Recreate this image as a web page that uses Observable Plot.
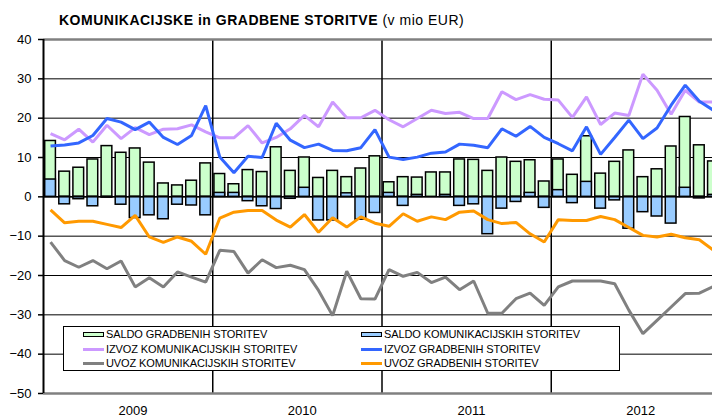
<!DOCTYPE html>
<html>
<head>
<meta charset="utf-8">
<script src="https://cdn.jsdelivr.net/npm/d3@7"></script>
<script src="https://cdn.jsdelivr.net/npm/@observablehq/plot@0.6"></script>
<style>
  body { margin: 0; background: #fff; font-family: "Liberation Sans", Arial, sans-serif; }
  #wrap { position: relative; width: 712px; height: 419px; overflow: hidden; }
  #title { position: absolute; left: 59px; top: 12px; font-size: 14px; line-height: 16px; letter-spacing: 0.5px; font-weight: bold; white-space: nowrap; color: #000; }
  #title span { font-weight: normal; }
  #legend { position: absolute; left: 63px; top: 326px; width: 555px; height: 43px; border: 1px solid #000; background: #fff; font-size: 11px; color: #000; }
  .item { position: absolute; display: flex; align-items: center; height: 14px; white-space: nowrap; letter-spacing: -0.1px; }
  .sw { width: 21px; margin-right: 2px; box-sizing: border-box; }
  .sw.bar { height: 5px; border: 1.5px solid #000; }
  .sw.line { height: 3px; }
</style>
</head>
<body>
<div id="wrap">
  <div id="chart"></div>
  <div id="title"></div>
  <div id="legend"></div>
</div>
<script>
// ---- data ----
const years = ["2009", "2010", "2011", "2012"];
const yTicks = [-50, -40, -30, -20, -10, 0, 10, 20, 30, 40];

const saldoGradbenih = [14.2, 6.4, 7.4, 9.5, 12.9, 11.2, 12.3, 8.7, 3.4, 2.9, 4.1, 8.5,
  5.8, 3.2, 6.8, 6.3, 12.6, 6.6, 10.0, 4.8, 6.6, 5.0, 7.2, 10.3,
  3.7, 5.0, 4.9, 6.2, 6.2, 9.5, 9.4, 6.6, 10.0, 8.9, 9.3, 3.9,
  9.5, 5.6, 15.4, 5.9, 8.9, 11.8, 5.0, 7.0, 12.8, 20.3, 13.1, 9.0];

const saldoKomunikacijskih = [4.4, -1.9, -0.6, -2.4, -0.2, -2.0, -5.4, -4.7, -5.7, -2.0, -2.2, -4.7,
  1.0, 1.0, -1.1, -2.4, -3.1, -0.5, 2.3, -6.0, -6.0, 0.9, -5.8, -4.1,
  1.0, -2.3, 0.5, 0.0, 0.5, -2.3, -1.9, -9.5, -3.0, -1.3, 1.0, -2.8,
  1.7, -1.6, 3.8, -3.0, -0.9, -8.1, -3.9, -5.0, -6.8, 2.3, -0.4, 0.5];

const izvozKomunikacijskih = [16.1, 14.5, 17.2, 13.9, 18.2, 14.8, 17.6, 15.8, 17.2, 17.3, 18.3, 16.5,
  15.0, 15.0, 18.1, 13.7, 15.1, 17.3, 20.7, 17.8, 24.1, 20.1, 20.1, 22.0,
  19.6, 17.8, 19.9, 22.0, 21.2, 21.5, 19.9, 19.9, 26.7, 24.7, 26.0, 24.8,
  24.6, 20.2, 25.4, 18.4, 21.3, 20.7, 31.2, 27.1, 21.0, 27.1, 24.1, 24.1];

const izvozGradbenih = [12.9, 13.2, 13.7, 15.6, 19.9, 19.0, 17.1, 19.0, 15.1, 13.3, 15.6, 23.2,
  10.1, 6.1, 10.3, 10.0, 18.7, 14.4, 12.5, 13.4, 11.8, 11.7, 12.5, 17.1,
  10.1, 9.5, 10.1, 11.1, 11.4, 13.4, 13.1, 12.5, 17.3, 15.4, 17.9, 15.1,
  13.5, 11.7, 17.8, 10.8, 15.1, 19.5, 14.8, 17.5, 23.3, 28.4, 24.3, 22.0];

const uvozKomunikacijskih = [-11.5, -16.2, -17.9, -16.2, -18.3, -16.3, -22.9, -20.6, -22.9, -19.1, -20.4, -21.7,
  -13.6, -13.9, -19.4, -16.0, -18.0, -17.4, -18.5, -23.8, -30.2, -18.9, -25.9, -26.0,
  -18.5, -20.2, -19.2, -21.8, -20.4, -23.6, -21.4, -29.6, -29.6, -25.9, -24.5, -27.6,
  -22.9, -21.4, -21.4, -21.4, -22.1, -28.8, -34.8, -31.4, -28.0, -24.6, -24.5, -22.8];

const uvozGradbenih = [-3.3, -6.6, -6.2, -6.2, -7.0, -7.8, -4.7, -10.2, -11.6, -10.2, -11.3, -14.6,
  -5.4, -3.9, -3.5, -3.5, -5.9, -7.7, -4.5, -9.0, -5.3, -7.7, -5.1, -6.7,
  -7.5, -4.3, -6.2, -5.1, -5.8, -3.9, -3.6, -5.8, -6.8, -6.5, -9.4, -11.5,
  -5.8, -6.0, -6.0, -5.0, -5.8, -7.8, -9.8, -10.2, -9.5, -10.4, -10.9, -13.6];

const titleBold = "KOMUNIKACIJSKE in GRADBENE STORITVE";
const titleUnit = "(v mio EUR)";

const legendItems = [
  {label: "SALDO GRADBENIH STORITEV", kind: "bar", color: "#ccffcc"},
  {label: "SALDO KOMUNIKACIJSKIH STORITEV", kind: "bar", color: "#99ccff"},
  {label: "IZVOZ KOMUNIKACIJSKIH STORITEV", kind: "line", color: "#cc99ff"},
  {label: "IZVOZ GRADBENIH STORITEV", kind: "line", color: "#3366ff"},
  {label: "UVOZ KOMUNIKACIJSKIH STORITEV", kind: "line", color: "#808080"},
  {label: "UVOZ GRADBENIH STORITEV", kind: "line", color: "#ff9900"}
];

// ---- build ----
const idx = d3.range(saldoGradbenih.length);
const yearBounds = years.slice(1).map((y, k) => (k + 1) * 12);
const gridY = yTicks.filter(v => v > -50 && v < 40);

const lineMark = (arr, color) => Plot.line(idx, {
  x: i => i + 0.5, y: i => arr[i], stroke: color, strokeWidth: 3,
  strokeLinejoin: "miter", strokeLinecap: "butt"
});

const chart = Plot.plot({
  width: 712,
  height: 419,
  marginLeft: 43,
  marginTop: 39,
  marginBottom: 26,
  marginRight: 0,
  style: {fontFamily: "'Liberation Sans', Arial, sans-serif", color: "#000", background: "#fff", overflow: "hidden"},
  x: {type: "linear", domain: [0, 48], range: [43, 720], axis: null},
  y: {domain: [-50, 40], range: [393, 39], axis: null},
  marks: [
    Plot.ruleY(gridY, {stroke: "#000", strokeWidth: 1}),
    Plot.rect(idx, {x1: i => i + 0.12, x2: i => i + 0.88, y1: 0, y2: i => saldoGradbenih[i],
      fill: "#ccffcc", stroke: "#000", strokeWidth: 1.5}),
    Plot.rect(idx, {x1: i => i + 0.12, x2: i => i + 0.88, y1: 0, y2: i => saldoKomunikacijskih[i],
      fill: "#99ccff", stroke: "#000", strokeWidth: 1.5}),
    Plot.ruleY([0], {stroke: "#000", strokeWidth: 1.5}),
    Plot.ruleX(yearBounds, {y1: -50, y2: 40, stroke: "#000", strokeWidth: 1.5}),
    Plot.ruleY([40, -50], {stroke: "#808080", strokeWidth: 2.5}),
    Plot.ruleX([0], {y1: -50, y2: 40, stroke: "#000", strokeWidth: 2}),
    lineMark(izvozKomunikacijskih, "#cc99ff"),
    lineMark(izvozGradbenih, "#3366ff"),
    lineMark(uvozKomunikacijskih, "#808080"),
    lineMark(uvozGradbenih, "#ff9900"),
    Plot.axisY(yTicks, {tickSize: 5, tickPadding: 7, fontSize: 13, stroke: "#000", strokeWidth: 1.5, fill: "#000", label: null}),
    Plot.text(years, {x: (d, k) => k * 12 + 6.35, y: -50, dy: 17, text: d => d, fontSize: 13, fill: "#000"})
  ]
});
document.getElementById("chart").appendChild(chart);

// title
const t = document.getElementById("title");
t.textContent = titleBold + " ";
const sp = document.createElement("span");
sp.textContent = titleUnit;
t.appendChild(sp);

// legend
const leg = document.getElementById("legend");
const colLeft = [19, 297];
const rowTop = [0, 15, 29];
legendItems.forEach((it, k) => {
  const div = document.createElement("div");
  div.className = "item";
  div.style.left = colLeft[k % 2] + "px";
  div.style.top = rowTop[Math.floor(k / 2)] + "px";
  const sw = document.createElement("div");
  sw.className = "sw " + it.kind;
  sw.style.background = it.color;
  div.appendChild(sw);
  const lab = document.createElement("span");
  lab.textContent = it.label;
  div.appendChild(lab);
  leg.appendChild(div);
});
</script>
</body>
</html>
